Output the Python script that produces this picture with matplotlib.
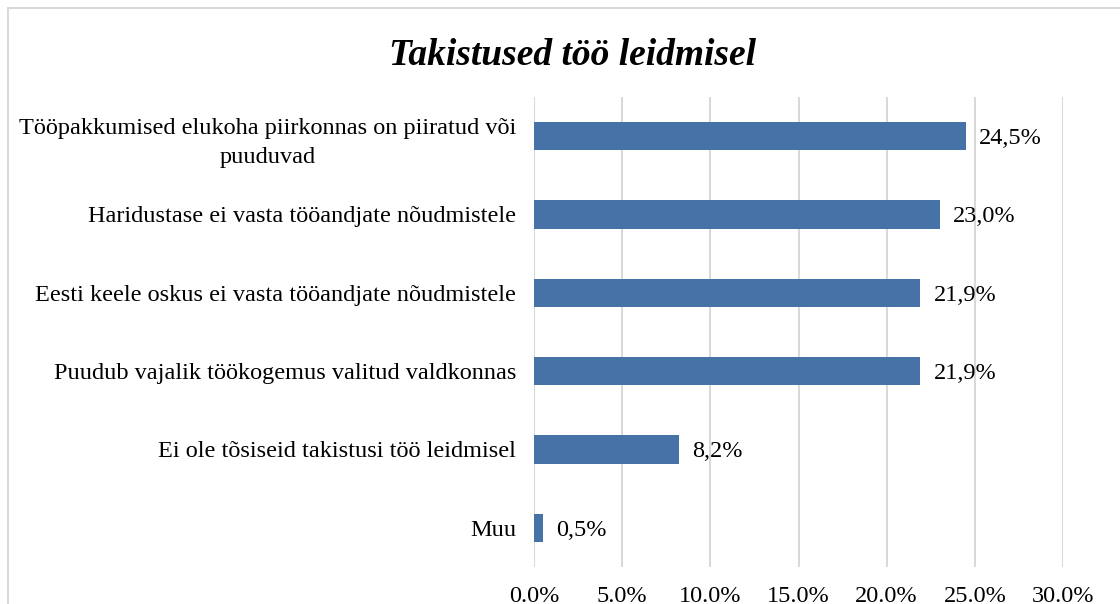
import matplotlib.pyplot as plt
from matplotlib.patches import Rectangle

# Data
categories = [
    "Tööpakkumised elukoha piirkonnas on piiratud või\npuuduvad",
    "Haridustase ei vasta tööandjate nõudmistele",
    "Eesti keele oskus ei vasta tööandjate nõudmistele",
    "Puudub vajalik töökogemus valitud valdkonnas",
    "Ei ole tõsiseid takistusi töö leidmisel",
    "Muu",
]
values = [24.5, 23.0, 21.9, 21.9, 8.2, 0.5]
xticks = [0, 5, 10, 15, 20, 25, 30]

plt.rcParams['font.family'] = ['Liberation Serif', 'DejaVu Serif']

fig = plt.figure(figsize=(11.2, 6.04), dpi=100)
ax = fig.add_axes([0.4768, 0.0613, 0.4723, 0.7781])

# outer chart border (left and top visible only)
fig.patches.append(Rectangle((8 / 1120, -0.5), 1.2, 1.5 - 8 / 604, transform=fig.transFigure,
                             fill=False, edgecolor='#d9d9d9', linewidth=1.5))

y = list(range(len(categories)))
ax.barh(y, values, height=0.36, color='#4672a8', zorder=3)
for yi, v in zip(y, values):
    ax.text(v + 0.75, yi, f"{v:.1f}%".replace('.', ','), va='center_baseline', ha='left', fontsize=17.5)

ax.set_ylim(len(categories) - 0.5, -0.5)
ax.set_xlim(0, 30)
ax.set_xticks(xticks)
ax.set_xticklabels([f"{t:.1f}%" for t in xticks], fontsize=17.5)
ax.set_yticks(y)
ax.set_yticklabels(categories, fontsize=17.5, multialignment='center', linespacing=1.55)
ax.tick_params(axis='both', length=0)
ax.tick_params(axis='x', pad=14)
ax.tick_params(axis='y', pad=13)
ax.grid(axis='x', color='#d9d9d9', linewidth=1.5, zorder=0)
for s in ax.spines.values():
    s.set_visible(False)

fig.text(0.511, 0.908, "Takistused töö leidmisel", ha='center', va='center',
         fontsize=27, fontweight='bold', fontstyle='italic')

fig.savefig("out.png", dpi=100)
